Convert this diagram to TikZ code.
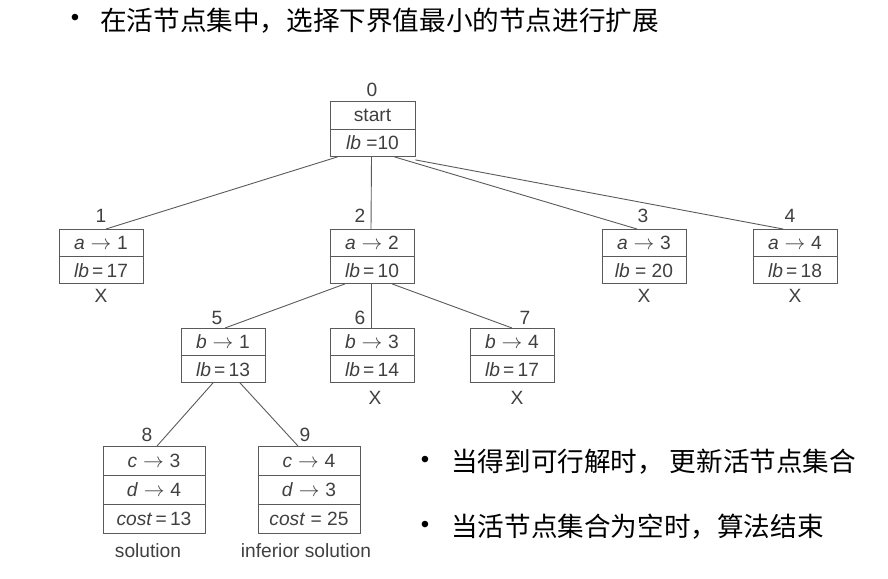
\documentclass[tikz,border=0pt]{standalone}
\usepackage{fontspec}
\setmainfont{Liberation Sans}
\newfontfamily\cjk{Noto Sans CJK SC}
\usetikzlibrary{calc}
\definecolor{ink}{HTML}{404040}
\definecolor{frame}{HTML}{5A5A5A}
\tikzset{
  boxshape/.style={draw=frame, line width=0.9pt, inner sep=0pt, minimum width=84pt},
  cell/.style={text=ink, font=\fontsize{19.2}{21}\selectfont, inner sep=0pt},
  lbl/.style={text=ink, font=\fontsize{19.2}{21}\selectfont, inner sep=0pt},
  edge/.style={draw=frame, line width=0.9pt},
  cn/.style={font=\cjk\fontsize{26.6}{30}\selectfont, text=black, inner sep=0pt, anchor=west},
  bul/.style={font=\fontsize{24}{26}\selectfont, text=black, inner sep=0pt}
}
\newcommand\twobox[5]{%
  \node[boxshape, minimum height=54pt, anchor=north] (#1) at (#2,#3) {};
  \draw[edge] (#1.west) -- (#1.east);
  \node[cell] (#1a) at ($(#1.north)!0.25!(#1.south)$) {#4};
  \node[cell] (#1b) at ($(#1.north)!0.75!(#1.south)$) {#5};
}
\newcommand\threebox[6]{%
  \node[boxshape, minimum width=102pt, minimum height=87pt, anchor=north] (#1) at (#2,#3) {};
  \draw[edge] ($(#1.north west)!0.3333!(#1.south west)$) -- ($(#1.north east)!0.3333!(#1.south east)$);
  \draw[edge] ($(#1.north west)!0.6667!(#1.south west)$) -- ($(#1.north east)!0.6667!(#1.south east)$);
  \node[cell] (#1a) at ($(#1.north)!0.1667!(#1.south)$) {#4};
  \node[cell] (#1b) at ($(#1.north)!0.5!(#1.south)$) {#5};
  \node[cell] (#1c) at ($(#1.north)!0.8333!(#1.south)$) {#6};
}
\newcommand\ar{\hspace{0.3em}\ensuremath{\rightarrow}\hspace{0.3em}}
\begin{document}
\begin{tikzpicture}[x=1pt,y=-1pt]
\useasboundingbox (0,0) rectangle (888,578);

% header
\node[bul] (b0) at (75,20) {\textbullet};
\node[cn] (h0) at (100,21) {在活节点集中，选择下界值最小的节点进行扩展};

% boxes
\node[boxshape, minimum width=85pt, minimum height=55pt, anchor=north] (n0) at (372.5,101) {};
\draw[edge] (n0.west) -- (n0.east);
\node[cell] (n0a) at ($(n0.north)!0.25!(n0.south)$) {start};
\node[cell] (n0b) at ($(n0.north)!0.75!(n0.south)$) {\textit{lb} =10};

\twobox{n1}{101}{229}{\textit{a}\ar1}{\textit{lb}\,=\,17}
\twobox{n2}{372}{229}{\textit{a}\ar2}{\textit{lb}\,=\,10}
\twobox{n3}{644}{229}{\textit{a}\ar3}{\textit{lb} = 20}
\twobox{n4}{795}{229}{\textit{a}\ar4}{\textit{lb}\,=\,18}
\twobox{n5}{223}{328}{\textit{b}\ar1}{\textit{lb}\,=\,13}
\twobox{n6}{372}{328}{\textit{b}\ar3}{\textit{lb}\,=\,14}
\twobox{n7}{512}{328}{\textit{b}\ar4}{\textit{lb}\,=\,17}
\threebox{n8}{154}{446}{\textit{c}\ar3}{\textit{d}\ar4}{\textit{cost}\,=\,13}
\threebox{n9}{309}{446}{\textit{c}\ar4}{\textit{d}\ar3}{\textit{cost} = 25}

% number labels
\node[lbl] (l0) at (372,90) {0};
\node[lbl] (l1) at (101,216) {1};
\node[lbl] (l2) at (360,216) {2};
\node[lbl] (l3) at (643,216) {3};
\node[lbl] (l4) at (790,216) {4};
\node[lbl] (l5) at (217,318) {5};
\node[lbl] (l6) at (360,318) {6};
\node[lbl] (l7) at (525,318) {7};
\node[lbl] (l8) at (147,435) {8};
\node[lbl] (l9) at (305,435) {9};

% X marks
\node[lbl] (x1) at (101,296) {X};
\node[lbl] (x3) at (644,296) {X};
\node[lbl] (x4) at (795,296) {X};
\node[lbl] (x6) at (375,398) {X};
\node[lbl] (x7) at (517,398) {X};

\node[lbl] (s8) at (148,551) {solution};
\node[lbl] (s9) at (306,551) {inferior solution};

% edges
\draw[edge] ([xshift=-35pt]n0.south) -- ([xshift=5pt]n1.north);
\draw[edge] ([xshift=-1pt]n0.south) -- ([xshift=-1pt]n2.north);
\draw[edge] ([xshift=22pt]n0.south) -- ([xshift=-7pt]n3.north);
\draw[edge] ([yshift=-3pt]n0.south east) -- ([xshift=-12pt]n4.north);
\draw[edge] ([xshift=-27pt]n2.south) -- ([xshift=2pt]n5.north);
\draw[edge] ([xshift=-1pt]n2.south) -- ([xshift=-1pt]n6.north);
\draw[edge] ([xshift=20pt]n2.south) -- (n7.north);
\draw[edge] ([xshift=-10pt]n5.south) -- ([xshift=3pt]n8.north);
\draw[edge] ([xshift=17pt]n5.south) -- ([xshift=-11pt]n9.north);

% bottom bullets
\node[bul] (b1) at (425,462) {\textbullet};
\node[cn] (t1) at (451,462) {当得到可行解时， 更新活节点集合};
\node[bul] (b2) at (425,527) {\textbullet};
\node[cn] (t2) at (451,527) {当活节点集合为空时，算法结束};
\end{tikzpicture}
\end{document}
